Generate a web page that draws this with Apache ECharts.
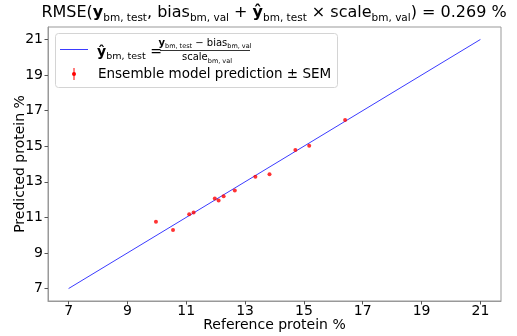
<!DOCTYPE html>
<html><head><meta charset="utf-8">
<script src="https://cdn.jsdelivr.net/npm/echarts@6/dist/echarts.min.js"></script>
<style>html,body{margin:0;padding:0;background:#fff}#c{width:517px;height:336px}</style>
</head><body><div id="c"></div>
<script>
// Data
const refValues  = [9.97, 10.55, 11.10, 11.25, 11.97, 12.10, 12.27, 12.65, 13.35, 13.83, 14.71, 15.18, 16.40];
const predValues = [10.75, 10.29, 11.17, 11.28, 12.06, 11.95, 12.19, 12.51, 13.29, 13.42, 14.78, 15.03, 16.48];
const lineX = [7, 21];
const lineY = [7, 21];
const tickValues = [7, 9, 11, 13, 15, 17, 19, 21];
const xName = 'Reference protein %';
const yName = 'Predicted protein %';

const F = 'DejaVu Sans';
const chart = echarts.init(document.getElementById('c'), null, {renderer: 'canvas'});
const axisCommon = {
  type: 'value', min: 6.3, max: 21.7,
  splitLine: {show: false},
  axisLine: {show: true, lineStyle: {color: '#999', width: 1}},
  axisTick: {show: true, length: 3.5, lineStyle: {color: '#555'}, customValues: tickValues},
  axisLabel: {color: '#000', fontSize: 14, fontFamily: F, customValues: tickValues, margin: 5},
  nameLocation: 'middle',
  nameMoveOverlap: false,
  nameTextStyle: {color: '#000', fontSize: 14, fontFamily: F}
};
const sub = {fontSize: 10.5, fontFamily: F, color: '#000', lineHeight: 12, verticalAlign: 'bottom', fontWeight: 'normal'};
const norm = {fontSize: 16, fontFamily: F, color: '#000', lineHeight: 22, fontWeight: 'normal'};
const bold = {fontSize: 16, fontFamily: F, color: '#000', lineHeight: 22, fontWeight: 'bold'};

chart.setOption({
  animation: false,
  title: {
    text: '{n|RMSE(}{b|y}{s|bm, test}{n|, bias}{s|bm, val}{n| + }{b|ŷ}{s|bm, test}{n| × scale}{s|bm, val}{n|) = 0.269 %}',
    left: 274, top: 2, textAlign: 'center', padding: 0,
    textStyle: {fontWeight: 'normal', rich: {n: norm, b: bold, s: sub}}
  },
  grid: {left: 48, right: 16, top: 27, bottom: 35, show: true, borderColor: '#999', borderWidth: 1,
         containLabel: false, outerBoundsMode: 'none'},
  xAxis: Object.assign({}, axisCommon, {name: xName, nameGap: 17,
         axisLabel: Object.assign({}, axisCommon.axisLabel, {margin: 3})}),
  yAxis: Object.assign({}, axisCommon, {name: yName, nameGap: 21}),
  series: [
    {type: 'line', data: lineX.map((x, i) => [x, lineY[i]]), showSymbol: false, symbol: 'none',
     lineStyle: {color: '#3b3bff', width: 1}, z: 2},
    {type: 'scatter', data: refValues.map((x, i) => [x, predValues[i]]), symbol: 'circle', symbolSize: 4,
     itemStyle: {color: '#ff0000'}, z: 3}
  ],
  graphic: [
    {type: 'rect', shape: {x: 55.5, y: 33.5, width: 282, height: 54, r: 3}, style: {fill: 'rgba(255,255,255,0.85)', stroke: '#d4d4d4', lineWidth: 1}, z: 10},
    {type: 'line', shape: {x1: 60, y1: 49.5, x2: 88, y2: 49.5}, style: {stroke: '#3b3bff', lineWidth: 1}, z: 11},
    {type: 'text', x: 97, y: 52, z: 11, style: {
      text: '{b|ŷ}{s|bm, test}{n| =}', verticalAlign: 'middle', align: 'left',
      rich: {n: {fontSize: 14, fontFamily: F, fill: '#000', lineHeight: 20},
             b: {fontSize: 14, fontFamily: F, fill: '#000', lineHeight: 20, fontWeight: 'bold'},
             s: {fontSize: 9.5, fontFamily: F, fill: '#000', lineHeight: 12, verticalAlign: 'bottom'}}}},
    {type: 'text', x: 205, y: 43, z: 11, style: {
      text: '{b|y}{s|bm, test}{n| − bias}{s|bm, val}', verticalAlign: 'middle', align: 'center',
      rich: {n: {fontSize: 10, fontFamily: F, fill: '#000', lineHeight: 14},
             b: {fontSize: 10, fontFamily: F, fill: '#000', lineHeight: 14, fontWeight: 'bold'},
             s: {fontSize: 6.5, fontFamily: F, fill: '#000', lineHeight: 9, verticalAlign: 'bottom'}}}},
    {type: 'line', shape: {x1: 160, y1: 50.5, x2: 250, y2: 50.5}, style: {stroke: '#000', lineWidth: 0.8}, z: 11},
    {type: 'text', x: 207, y: 57.5, z: 11, style: {
      text: '{n|scale}{s|bm, val}', verticalAlign: 'middle', align: 'center',
      rich: {n: {fontSize: 10, fontFamily: F, fill: '#000', lineHeight: 14},
             s: {fontSize: 6.5, fontFamily: F, fill: '#000', lineHeight: 9, verticalAlign: 'bottom'}}}},
    {type: 'line', shape: {x1: 74, y1: 68, x2: 74, y2: 80}, style: {stroke: '#ff0000', lineWidth: 1}, z: 11},
    {type: 'circle', shape: {cx: 74, cy: 74, r: 2}, style: {fill: '#ff0000'}, z: 11},
    {type: 'text', x: 98, y: 74, z: 11, style: {
      text: 'Ensemble model prediction ± SEM', fontSize: 13.5, fontFamily: F, fill: '#000', verticalAlign: 'middle', align: 'left'}}
  ]
});
</script></body></html>
